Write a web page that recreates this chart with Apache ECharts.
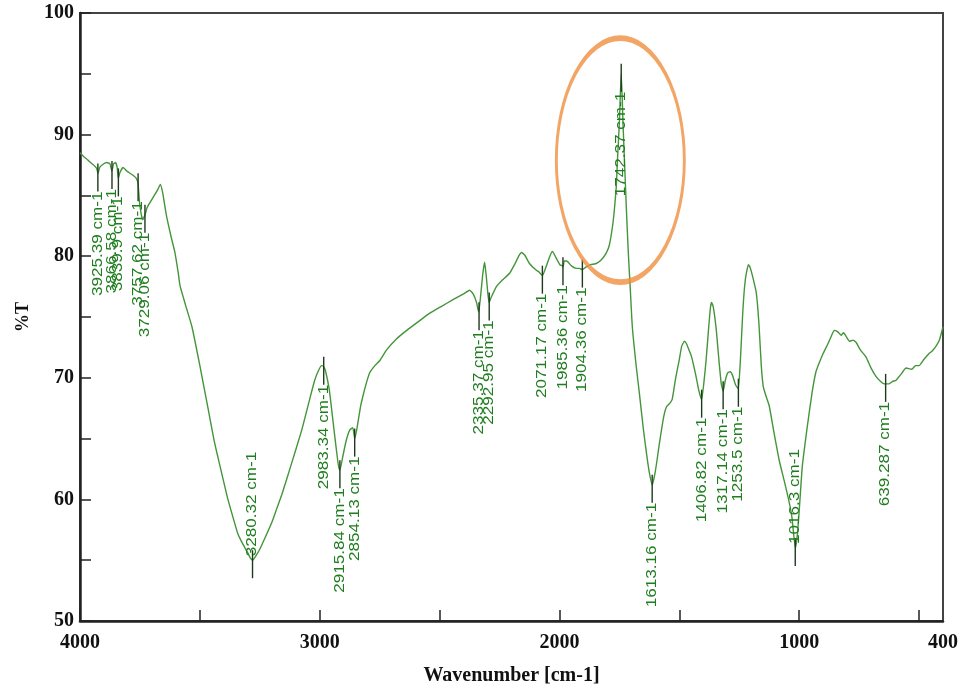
<!DOCTYPE html>
<html>
<head>
<meta charset="utf-8">
<script src="https://cdn.jsdelivr.net/npm/echarts@6/dist/echarts.min.js"></script>
<style>
html,body{margin:0;padding:0;background:#fff;}
#chart{width:966px;height:692px;}
</style>
</head>
<body>
<div id="chart"></div>
<script>
// ---- data ----
const wavenumbers = [4000,3985,3967,3950,3938,3930,3925,3918,3908,3890,3875,3867,3860,3852,3845,3840,3833,3820,3805,3790,3775,3765,3758,3752,3745,3738,3729,3720,3705,3690,3675,3665,3655,3640,3620,3604,3590,3583,3560,3533,3500,3467,3440,3425,3400,3383,3360,3342,3320,3300,3290,3280,3265,3250,3229,3200,3180,3158,3120,3075,3045,3021,3005,2992,2983,2975,2960,2945,2930,2922,2916,2905,2890,2875,2862,2854,2845,2830,2821,2805,2792,2770,2750,2721,2680,2637,2590,2542,2490,2446,2400,2375,2360,2346,2337,2330,2320,2312,2305,2298,2293,2285,2263,2240,2208,2185,2170,2158,2145,2125,2100,2085,2071,2058,2040,2029,2015,1998,1988,1985,1980,1970,1950,1930,1917,1904,1890,1870,1846,1825,1804,1792,1779,1771,1763,1758,1750,1746,1742,1735,1728,1720,1712,1705,1696,1680,1667,1650,1637,1625,1613,1600,1583,1565,1554,1540,1530,1515,1500,1490,1479,1470,1460,1450,1440,1429,1418,1407,1398,1388,1378,1370,1365,1358,1346,1335,1325,1317,1308,1298,1288,1278,1265,1254,1245,1235,1225,1212,1205,1195,1179,1168,1158,1150,1140,1125,1105,1083,1062,1042,1030,1016,1008,1000,987,966,946,930,917,900,880,862,854,840,825,815,804,790,775,762,745,721,700,679,660,645,639,625,610,596,575,554,530,515,500,480,458,445,429,415,404,400];
const transmittance = [88.5,88.2,87.9,87.6,87.4,87.2,86.8,87.3,87.5,87.7,87.6,87.0,87.6,87.7,87.3,86.4,86.9,87.3,87.0,86.8,86.6,86.4,86.0,84.5,83.5,83.0,83.4,84.0,84.5,85.0,85.5,85.9,85.2,83.4,81.6,80.3,78.6,77.6,76.0,74.2,71.0,67.6,64.8,63.5,61.4,60.0,58.4,57.2,56.3,55.6,55.2,55.0,55.4,55.9,56.8,58.1,59.2,60.4,62.8,65.7,68.0,69.8,70.6,71.0,70.9,70.5,69.0,66.5,64.0,62.8,62.4,63.4,64.8,65.7,65.9,65.0,65.8,67.6,68.4,69.6,70.4,71.0,71.4,72.3,73.2,73.9,74.6,75.3,75.9,76.4,76.9,77.2,76.9,76.2,75.4,76.5,78.5,79.5,78.3,76.8,76.2,76.6,77.5,78.0,78.6,79.4,80.0,80.3,80.1,79.4,78.9,78.7,78.4,79.0,80.0,80.4,79.9,79.3,79.2,79.1,79.6,79.6,79.2,79.0,79.0,78.9,79.1,79.3,79.4,79.7,80.3,80.9,82.4,83.8,85.7,87.9,91.0,93.3,95.0,91.0,87.5,83.5,80.0,77.5,74.2,71.0,68.8,65.8,63.8,62.2,61.2,62.3,64.6,66.8,67.6,67.9,68.2,70.0,71.5,72.6,73.0,72.8,72.3,71.8,71.0,70.0,68.9,68.2,69.5,71.5,74.0,75.8,76.2,75.8,74.0,71.5,69.5,68.9,69.8,70.4,70.5,70.2,69.4,69.1,71.5,75.5,78.0,79.3,79.1,78.4,77.0,74.5,71.0,69.3,68.6,67.7,65.5,63.2,61.5,59.8,58.5,56.0,57.0,59.0,62.7,66.0,68.8,70.5,71.2,72.0,72.8,73.6,73.9,73.8,73.5,73.7,73.4,73.0,73.1,72.9,72.3,71.7,70.8,70.1,69.7,69.5,69.5,69.5,69.7,69.8,70.3,70.8,70.7,71.0,71.0,71.5,72.0,72.2,72.6,73.1,73.9,74.2];

const peakWavenumbers = [3925.39,3866.58,3839.9,3757.62,3729.06,3280.32,2983.34,2915.84,2854.13,2335.37,2292.95,2071.17,1985.36,1904.36,1742.37,1613.16,1406.82,1317.14,1253.5,1016.3,639.287];
const peakTransmittance = [86.8,87.0,86.4,86.0,83.4,55.0,70.9,62.4,65.0,75.4,76.2,78.4,79.1,78.9,95.0,61.2,68.2,68.9,69.1,56.0,69.5];
const peakUnit = ' cm-1';

const xTickValues = [4000,3500,3000,2500,2000,1500,1000,500];
const xLabelValues = [4000,3000,2000,1000,400];

// highlighted region (orange ellipse) centre
const highlightCenter = [1746, 87.9];

// ---- chart ----
const chart = echarts.init(document.getElementById('chart'), null, {renderer:'canvas'});
const serif = '"Liberation Serif","Times New Roman",serif';
const sans = '"Liberation Sans",Arial,sans-serif';
const labelFont = '14px ' + sans;
const labelStretch = 1.22;

const measureCtx = document.createElement('canvas').getContext('2d');
measureCtx.font = labelFont;

const curve = wavenumbers.map((w, i) => [w, transmittance[i]]);
const peaks = peakWavenumbers.map((w, i) => [w, peakTransmittance[i]]);

const option = {
  animation: false,
  backgroundColor: '#fff',
  grid: {left: 80, right: 23, top: 13, bottom: 71, show: true, borderColor: '#444', borderWidth: 2},
  xAxis: {
    type: 'value', inverse: true, min: 400, max: 4000,
    axisLine: {show: true, onZero: false, lineStyle: {color: '#222', width: 2.5}},
    axisTick: {show: true, inside: true, length: 11, customValues: xTickValues, lineStyle: {color: '#222', width: 1.5}},
    axisLabel: {customValues: xLabelValues, color: '#111', fontFamily: serif, fontWeight: 'bold', fontSize: 20, margin: 12,
      formatter: v => String(v)},
    splitLine: {show: false},
    name: 'Wavenumber [cm-1]', nameLocation: 'middle', nameGap: 45,
    nameTextStyle: {color: '#111', fontFamily: serif, fontWeight: 'bold', fontSize: 20}
  },
  yAxis: {
    type: 'value', min: 50, max: 100, interval: 5,
    axisLine: {show: true, onZero: false, lineStyle: {color: '#222', width: 2.5}},
    axisTick: {show: true, inside: true, length: 11, lineStyle: {color: '#222', width: 1.5}},
    axisLabel: {color: '#111', fontFamily: serif, fontWeight: 'bold', fontSize: 20, margin: 6,
      formatter: v => (v % 10 === 0 ? String(v) : '')},
    splitLine: {show: false},
    name: '%T', nameLocation: 'middle', nameGap: 48,
    nameTextStyle: {color: '#111', fontFamily: serif, fontWeight: 'bold', fontSize: 18}
  },
  series: [
    {
      type: 'line', data: curve, showSymbol: false, smooth: 0.15,
      lineStyle: {color: '#44943a', width: 1.4}, z: 3
    },
    {
      type: 'custom', data: peaks, clip: false, z: 4,
      renderItem: function (params, api) {
        const p = api.coord([api.value(0), api.value(1)]);
        const text = String(peakWavenumbers[params.dataIndex]) + peakUnit;
        const tw = measureCtx.measureText(text).width * labelStretch;
        const bottom = params.coordSys.y + params.coordSys.height;
        const below = p[1] + 18 + tw < bottom;
        const children = [
          {type: 'line', shape: {x1: p[0], y1: p[1] - 10, x2: p[0], y2: p[1] + 18},
           style: {stroke: '#1d3a1d', lineWidth: 1.4}},
          {type: 'text', x: p[0], y: below ? p[1] + 18 : p[1] - 4, rotation: Math.PI / 2,
           scaleX: labelStretch, scaleY: 1,
           style: {text: text, fill: '#1f7d1f', font: labelFont,
                   align: below ? 'right' : 'left', verticalAlign: 'middle'}}
        ];
        return {type: 'group', children: children};
      }
    },
    {
      type: 'scatter', data: [highlightCenter], symbol: 'circle', symbolSize: [128, 244],
      itemStyle: {color: 'rgba(0,0,0,0)', borderColor: '#ef8e3e', borderWidth: 4},
      silent: true, z: 5
    }
  ]
};
chart.setOption(option);
</script>
</body>
</html>
